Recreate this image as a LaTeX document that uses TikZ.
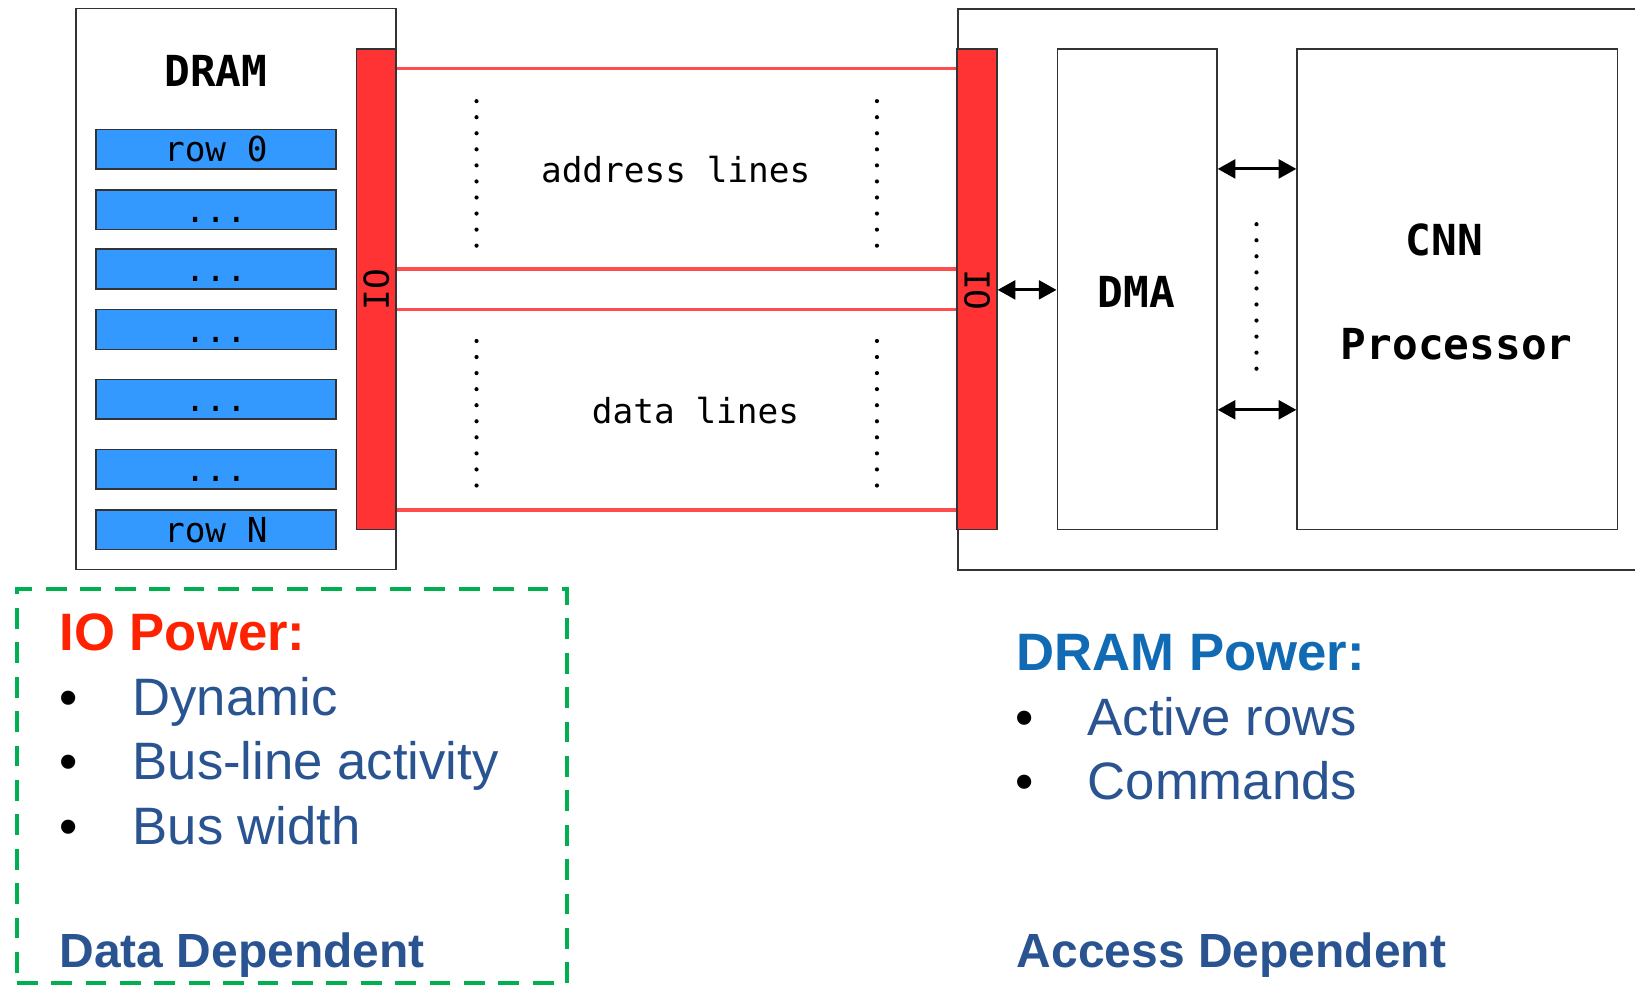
\documentclass[tikz,border=0pt]{standalone}
\usepackage{fontspec}
\setmainfont{Liberation Sans}
\newfontfamily\monofont{DejaVu Sans Mono}
\usetikzlibrary{arrows.meta}
\definecolor{iored}{HTML}{FF3333}
\definecolor{rowblue}{HTML}{3399FF}
\definecolor{busred}{HTML}{FF4D4D}
\definecolor{grn}{HTML}{00B050}
\definecolor{txtblue}{HTML}{295491}
\definecolor{hdblue}{HTML}{106AB4}
\definecolor{hdred}{HTML}{FF2200}
\definecolor{frameclr}{HTML}{333333}
\tikzset{
  box/.style={draw=frameclr, line width=1.5pt, fill=white, inner sep=0pt},
  iobar/.style={draw=frameclr, line width=1.5pt, fill=iored, inner sep=0pt, minimum width=38pt, minimum height=461pt},
  rowbox/.style={draw=frameclr, line width=1.5pt, fill=rowblue, inner sep=0pt, minimum width=230pt, minimum height=38pt},
  bigmono/.style={font=\monofont\bfseries\fontsize{41}{48}\selectfont, inner sep=0pt},
  smallmono/.style={font=\monofont\fontsize{33}{40}\selectfont, inner sep=0pt},
  bus/.style={draw=busred, line width=3.2pt},
  dotline/.style={line width=4pt, line cap=round, dash pattern=on 0pt off 15.4pt},
  dbl/.style={line width=3pt, {Triangle[length=17pt,width=18pt]}-{Triangle[length=17pt,width=18pt]}},
  head/.style={font=\bfseries\fontsize{50.5}{60}\selectfont, inner sep=0pt, anchor=base west},
  item/.style={font=\fontsize{50.5}{60}\selectfont, text=txtblue, inner sep=0pt, anchor=base west},
  bul/.style={font=\fontsize{50}{60}\selectfont, inner sep=0pt, anchor=base},
  foot/.style={font=\bfseries\fontsize{46}{56}\selectfont, text=txtblue, inner sep=0pt, anchor=base west},
}
\begin{document}
\begin{tikzpicture}[x=1pt,y=-1pt]
\useasboundingbox (0,0) rectangle (1568,945);
% left DRAM chip
\node[box, minimum width=307pt, minimum height=538pt] (dram) at (226.5,277) {};
\node[bigmono] (dramlbl) at (207,68) {DRAM};
\node[rowbox] (r0) at (207,143) {};
\node[rowbox] (r1) at (207,201) {};
\node[rowbox] (r2) at (207,258) {};
\node[rowbox] (r3) at (207,316) {};
\node[rowbox] (r4) at (207,383) {};
\node[rowbox] (r5) at (207,450) {};
\node[rowbox] (rN) at (207,508) {};
\node[smallmono, anchor=base] (t0) at (207,155) {row 0};
\node[smallmono, anchor=base] (t1) at (207,213) {...};
\node[smallmono, anchor=base] (t2) at (207,270) {...};
\node[smallmono, anchor=base] (t3) at (207,328) {...};
\node[smallmono, anchor=base] (t4) at (207,395) {...};
\node[smallmono, anchor=base] (t5) at (207,462) {...};
\node[smallmono, anchor=base] (tN) at (207,520) {row N};
\node[iobar] (io1) at (361,277.5) {};
\node[smallmono, rotate=90] (io1t) at (361,278) {IO};
% right chip
\node[box, minimum width=700pt, minimum height=538pt, anchor=north west] (rbox) at (918,8) {};
\node[iobar] (io2) at (937,277.5) {};
\node[smallmono, rotate=-90] (io2t) at (937,278) {IO};
\node[box, minimum width=153pt, minimum height=461pt] (dma) at (1090.5,277.5) {};
\node[bigmono] (dmat) at (1090,280) {DMA};
\node[box, minimum width=307pt, minimum height=461pt] (cnn) at (1397.5,277.5) {};
\node[bigmono] (cnnt) at (1385,230) {CNN};
\node[bigmono] (proct) at (1397,330) {Processor};
% bus lines
\coordinate (ya) at (0,66);
\coordinate (yb) at (0,258);
\coordinate (yc) at (0,297);
\coordinate (yd) at (0,489);
\draw[bus] (io1.east |- ya) -- (io2.west |- ya);
\draw[bus] (io1.east |- yb) -- (io2.west |- yb);
\draw[bus] (io1.east |- yc) -- (io2.west |- yc);
\draw[bus] (io1.east |- yd) -- (io2.west |- yd);
\draw[dotline] (457,97) -- (457,240);
\draw[dotline] (841,97) -- (841,240);
\draw[dotline] (457,327) -- (457,470);
\draw[dotline] (841,327) -- (841,470);
\node[smallmono] (addr) at (648,163) {address lines};
\node[smallmono] (data) at (667,394) {data lines};
% arrows
\coordinate (ye) at (0,162);
\coordinate (yf) at (0,393);
\coordinate (yg) at (0,278);
\draw[dbl] (io2.east |- yg) -- (dma.west |- yg);
\draw[dbl] (dma.east |- ye) -- (cnn.west |- ye);
\draw[dbl] (dma.east |- yf) -- (cnn.west |- yf);
\draw[dotline] (1205,215) -- (1205,355);
% IO power box
\node[draw=grn, line width=4pt, dash pattern=on 20pt off 13pt, minimum width=528pt, minimum height=378pt, inner sep=0pt] (grnbox) at (280,754) {};
\node[head, text=hdred] (iop) at (57,624) {IO Power:};
\node[bul] (b1) at (66,686) {•};
\node[item] (i1) at (127,686) {Dynamic};
\node[bul] (b2) at (66,748) {•};
\node[item] (i2) at (127,748) {Bus-line activity};
\node[bul] (b3) at (66,810) {•};
\node[item] (i3) at (127,810) {Bus width};
\node[foot] (dd) at (57,928) {Data Dependent};
% DRAM power
\node[head, text=hdblue] (drp) at (975,643) {DRAM Power:};
\node[bul] (b4) at (983,705) {•};
\node[item] (i4) at (1043,705) {Active rows};
\node[bul] (b5) at (983,767) {•};
\node[item] (i5) at (1043,767) {Commands};
\node[foot] (ad) at (975,928) {Access Dependent};
\end{tikzpicture}
\end{document}
